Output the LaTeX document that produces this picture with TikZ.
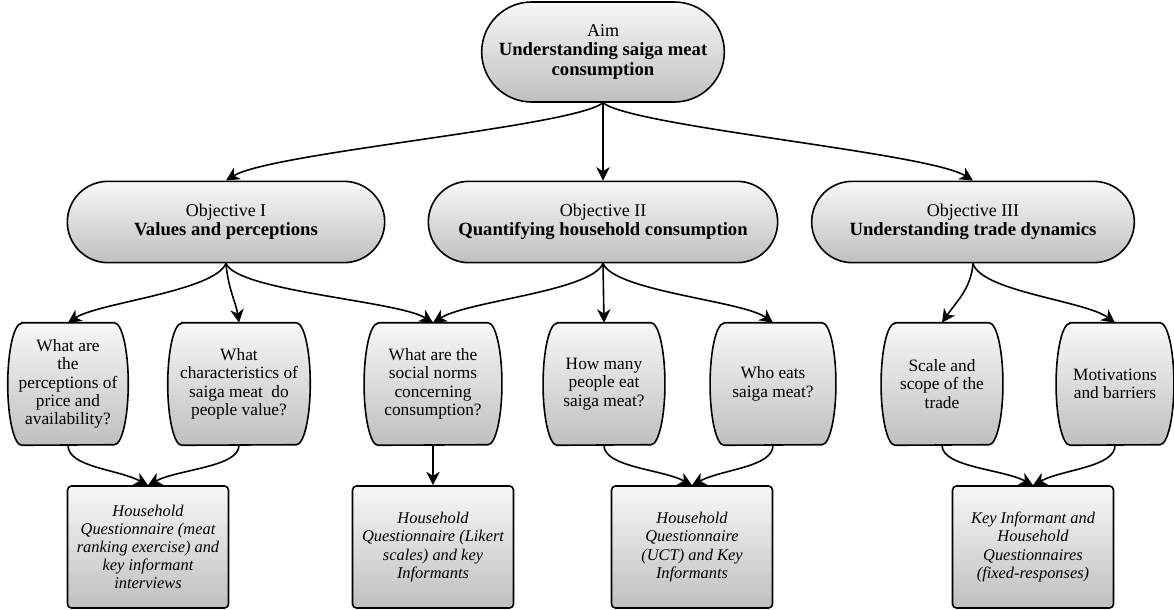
\documentclass[tikz,border=0pt]{standalone}
\usepackage{fontspec}
\setmainfont{Liberation Serif}
\usetikzlibrary{shapes.misc,arrows.meta,backgrounds}
\tikzset{
  x=0.75pt, y=-0.75pt,
  shadeit/.style={top color=gray!6, bottom color=gray!50},
  stadium/.style={shape=rounded rectangle, draw, line width=1.2pt, shadeit,
    inner sep=0pt, align=center, font=\fontsize{13.5}{14.5}\selectfont},
  qnode/.style={inner sep=0pt, minimum height=91.5pt, align=center,
    font=\fontsize{13}{13.8}\selectfont},
  qshape/.style={draw, line width=1.2pt, shadeit},
  boxnode/.style={draw, line width=1.2pt, rounded corners=3pt, shadeit,
    minimum width=120.75pt, minimum height=91.5pt, inner sep=0pt, align=center,
    font=\fontsize{12.3}{13.6}\selectfont\itshape},
  conn/.style={line width=1.2pt, -{Stealth[length=10pt,width=10pt,inset=3pt]}},
}
\newcommand{\barrel}[1]{%
  \begin{pgfonlayer}{background}
  \draw[qshape] ([xshift=10.5pt]#1.north west) -- ([xshift=-10.5pt]#1.north east)
    arc[start angle=90, end angle=-90, x radius=10.5pt, y radius=45.75pt]
    -- ([xshift=10.5pt]#1.south west)
    arc[start angle=270, end angle=90, x radius=10.5pt, y radius=45.75pt] -- cycle;
  \end{pgfonlayer}}
\newcommand{\bt}[1]{{\fontsize{14}{14.5}\selectfont\bfseries #1}}
\begin{document}
\begin{tikzpicture}
\useasboundingbox (0,0) rectangle (1174,610);
% Aim
\node[stadium, minimum width=182pt, minimum height=75pt] (aim) at (603,52)
  {Aim\\\bt{Understanding saiga meat}\\\bt{consumption}};
% Objectives
\node[stadium, minimum width=238pt, minimum height=61pt] (o1) at (226,222)
  {Objective I\\\bt{Values and perceptions}};
\node[stadium, minimum width=262pt, minimum height=61pt] (o2) at (603,222)
  {Objective II\\\bt{Quantifying household consumption}};
\node[stadium, minimum width=242pt, minimum height=61pt] (o3) at (973,222)
  {Objective III\\\bt{Understanding trade dynamics}};
% Questions
\node[qnode, minimum width=90pt] (q1) at (68,384) {What are\\the\\perceptions of\\price and\\availability?};
\node[qnode, minimum width=106.5pt] (q2) at (239,384) {What\\characteristics of\\saiga meat\ \ do\\people value?};
\node[qnode, minimum width=103pt] (q3) at (433,384) {What are the\\social norms\\concerning\\consumption?};
\node[qnode, minimum width=91pt] (q4) at (604,384) {How many\\people eat\\saiga meat?};
\node[qnode, minimum width=94pt] (q5) at (773,384) {Who eats\\saiga meat?};
\node[qnode, minimum width=91pt] (q6) at (942,384) {Scale and\\scope of the\\trade};
\node[qnode, minimum width=88pt] (q7) at (1115,384) {Motivations\\and barriers};
\barrel{q1}\barrel{q2}\barrel{q3}\barrel{q4}\barrel{q5}\barrel{q6}\barrel{q7}
% Boxes
\node[boxnode] (b1) at (148,547) {Household\\Questionnaire (meat\\ranking exercise) and\\key informant\\interviews};
\node[boxnode] (b2) at (433,547) {Household\\Questionnaire (Likert\\scales) and key\\Informants};
\node[boxnode] (b3) at (692,547) {Household\\Questionnaire\\(UCT) and Key\\Informants};
\node[boxnode] (b4) at (1033,547) {Key Informant and\\Household\\Questionnaires\\(fixed-responses)};
% Connectors
\draw[conn] (aim.south) .. controls +(-30,24) and +(45,-28) .. (o1.north);
\draw[conn] (aim.south) -- (o2.north);
\draw[conn] (aim.south) .. controls +(30,24) and +(-45,-28) .. (o3.north);
\draw[conn] (o1.south) .. controls +(-12,28) and +(30,-20) .. (q1.north);
\draw[conn] (o1.south) .. controls +(2,25) and +(-3,-20) .. (q2.north);
\draw[conn] (o1.south) .. controls +(12,28) and +(-35,-22) .. (q3.north);
\draw[conn] (o2.south) .. controls +(-12,28) and +(35,-22) .. (q3.north);
\draw[conn] (o2.south) -- (q4.north);
\draw[conn] (o2.south) .. controls +(12,28) and +(-30,-22) .. (q5.north);
\draw[conn] (o3.south) .. controls +(-2,25) and +(15,-22) .. (q6.north);
\draw[conn] (o3.south) .. controls +(8,28) and +(-30,-22) .. (q7.north);
\draw[conn] (q1.south) .. controls +(0,22) and +(-30,-16) .. (b1.north);
\draw[conn] (q2.south) .. controls +(0,22) and +(30,-16) .. (b1.north);
\draw[conn] (q3.south) -- (b2.north);
\draw[conn] (q4.south) .. controls +(0,22) and +(-30,-16) .. (b3.north);
\draw[conn] (q5.south) .. controls +(0,22) and +(30,-16) .. (b3.north);
\draw[conn] (q6.south) .. controls +(0,22) and +(-30,-16) .. (b4.north);
\draw[conn] (q7.south) .. controls +(0,22) and +(30,-16) .. (b4.north);
\end{tikzpicture}
\end{document}
